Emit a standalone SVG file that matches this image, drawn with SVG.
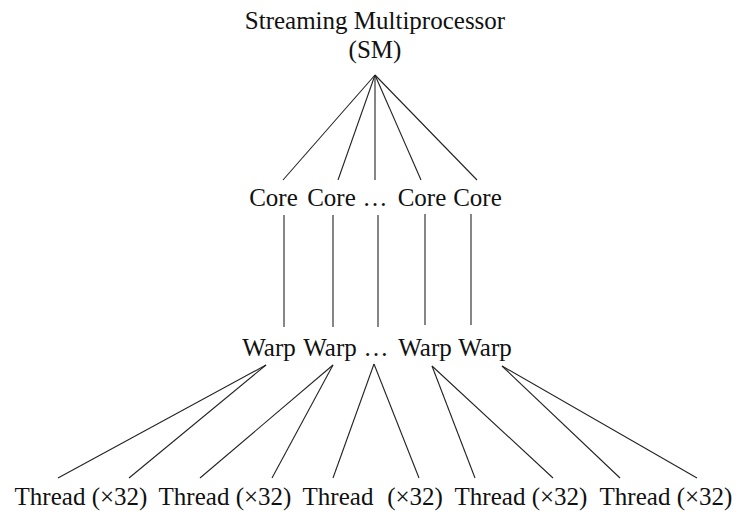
<svg xmlns="http://www.w3.org/2000/svg" width="736" height="512" viewBox="0 0 736 512">
<style>
line{stroke:#222;stroke-width:1.1;fill:none}
</style>
<rect width="736" height="512" fill="#fff"/>
<g id="connectors">
<line x1="375" y1="75" x2="283" y2="180"/>
<line x1="375" y1="75" x2="338" y2="180"/>
<line x1="375" y1="75" x2="375" y2="180"/>
<line x1="375" y1="75" x2="421" y2="180"/>
<line x1="375" y1="75" x2="477" y2="180"/>
<line x1="284" y1="215" x2="284" y2="327"/>
<line x1="333" y1="215" x2="333" y2="327"/>
<line x1="378" y1="215" x2="378" y2="327"/>
<line x1="425" y1="214" x2="425" y2="325"/>
<line x1="471" y1="214" x2="471" y2="325"/>
<line x1="266" y1="365" x2="58" y2="478"/>
<line x1="266" y1="365" x2="129" y2="478"/>
<line x1="333" y1="365" x2="200" y2="478"/>
<line x1="333" y1="365" x2="272" y2="478"/>
<line x1="374" y1="364" x2="333" y2="478"/>
<line x1="374" y1="364" x2="419" y2="478"/>
<line x1="432" y1="366" x2="475" y2="478"/>
<line x1="432" y1="366" x2="553" y2="478"/>
<line x1="502" y1="366" x2="620" y2="478"/>
<line x1="502" y1="366" x2="697" y2="478"/>
</g>
<g fill="#111" text-anchor="middle" font-family="Liberation Serif" font-size="25">
<g id="sm"><text x="375" y="29">Streaming Multiprocessor</text><text x="375" y="58">(SM)</text></g>
<g id="core1"><text x="273.5" y="206">Core</text></g>
<g id="core2"><text x="331.5" y="206">Core</text></g>
<g id="core-ellipsis"><text x="375" y="206">…</text></g>
<g id="core3"><text x="422" y="206">Core</text></g>
<g id="core4"><text x="477.5" y="206">Core</text></g>
<g id="warp1"><text x="269" y="356">Warp</text></g>
<g id="warp2"><text x="330" y="356">Warp</text></g>
<g id="warp-ellipsis"><text x="376" y="356">…</text></g>
<g id="warp3"><text x="425" y="356">Warp</text></g>
<g id="warp4"><text x="485" y="356">Warp</text></g>
<g id="thread1"><text x="81" y="505">Thread (×32)</text></g>
<g id="thread2"><text x="225" y="505">Thread (×32)</text></g>
<g id="thread3"><text x="338" y="505">Thread</text></g>
<g id="thread3b"><text x="415" y="505">(×32)</text></g>
<g id="thread4"><text x="521" y="505">Thread (×32)</text></g>
<g id="thread5"><text x="666" y="505">Thread (×32)</text></g>
</g>
</svg>
